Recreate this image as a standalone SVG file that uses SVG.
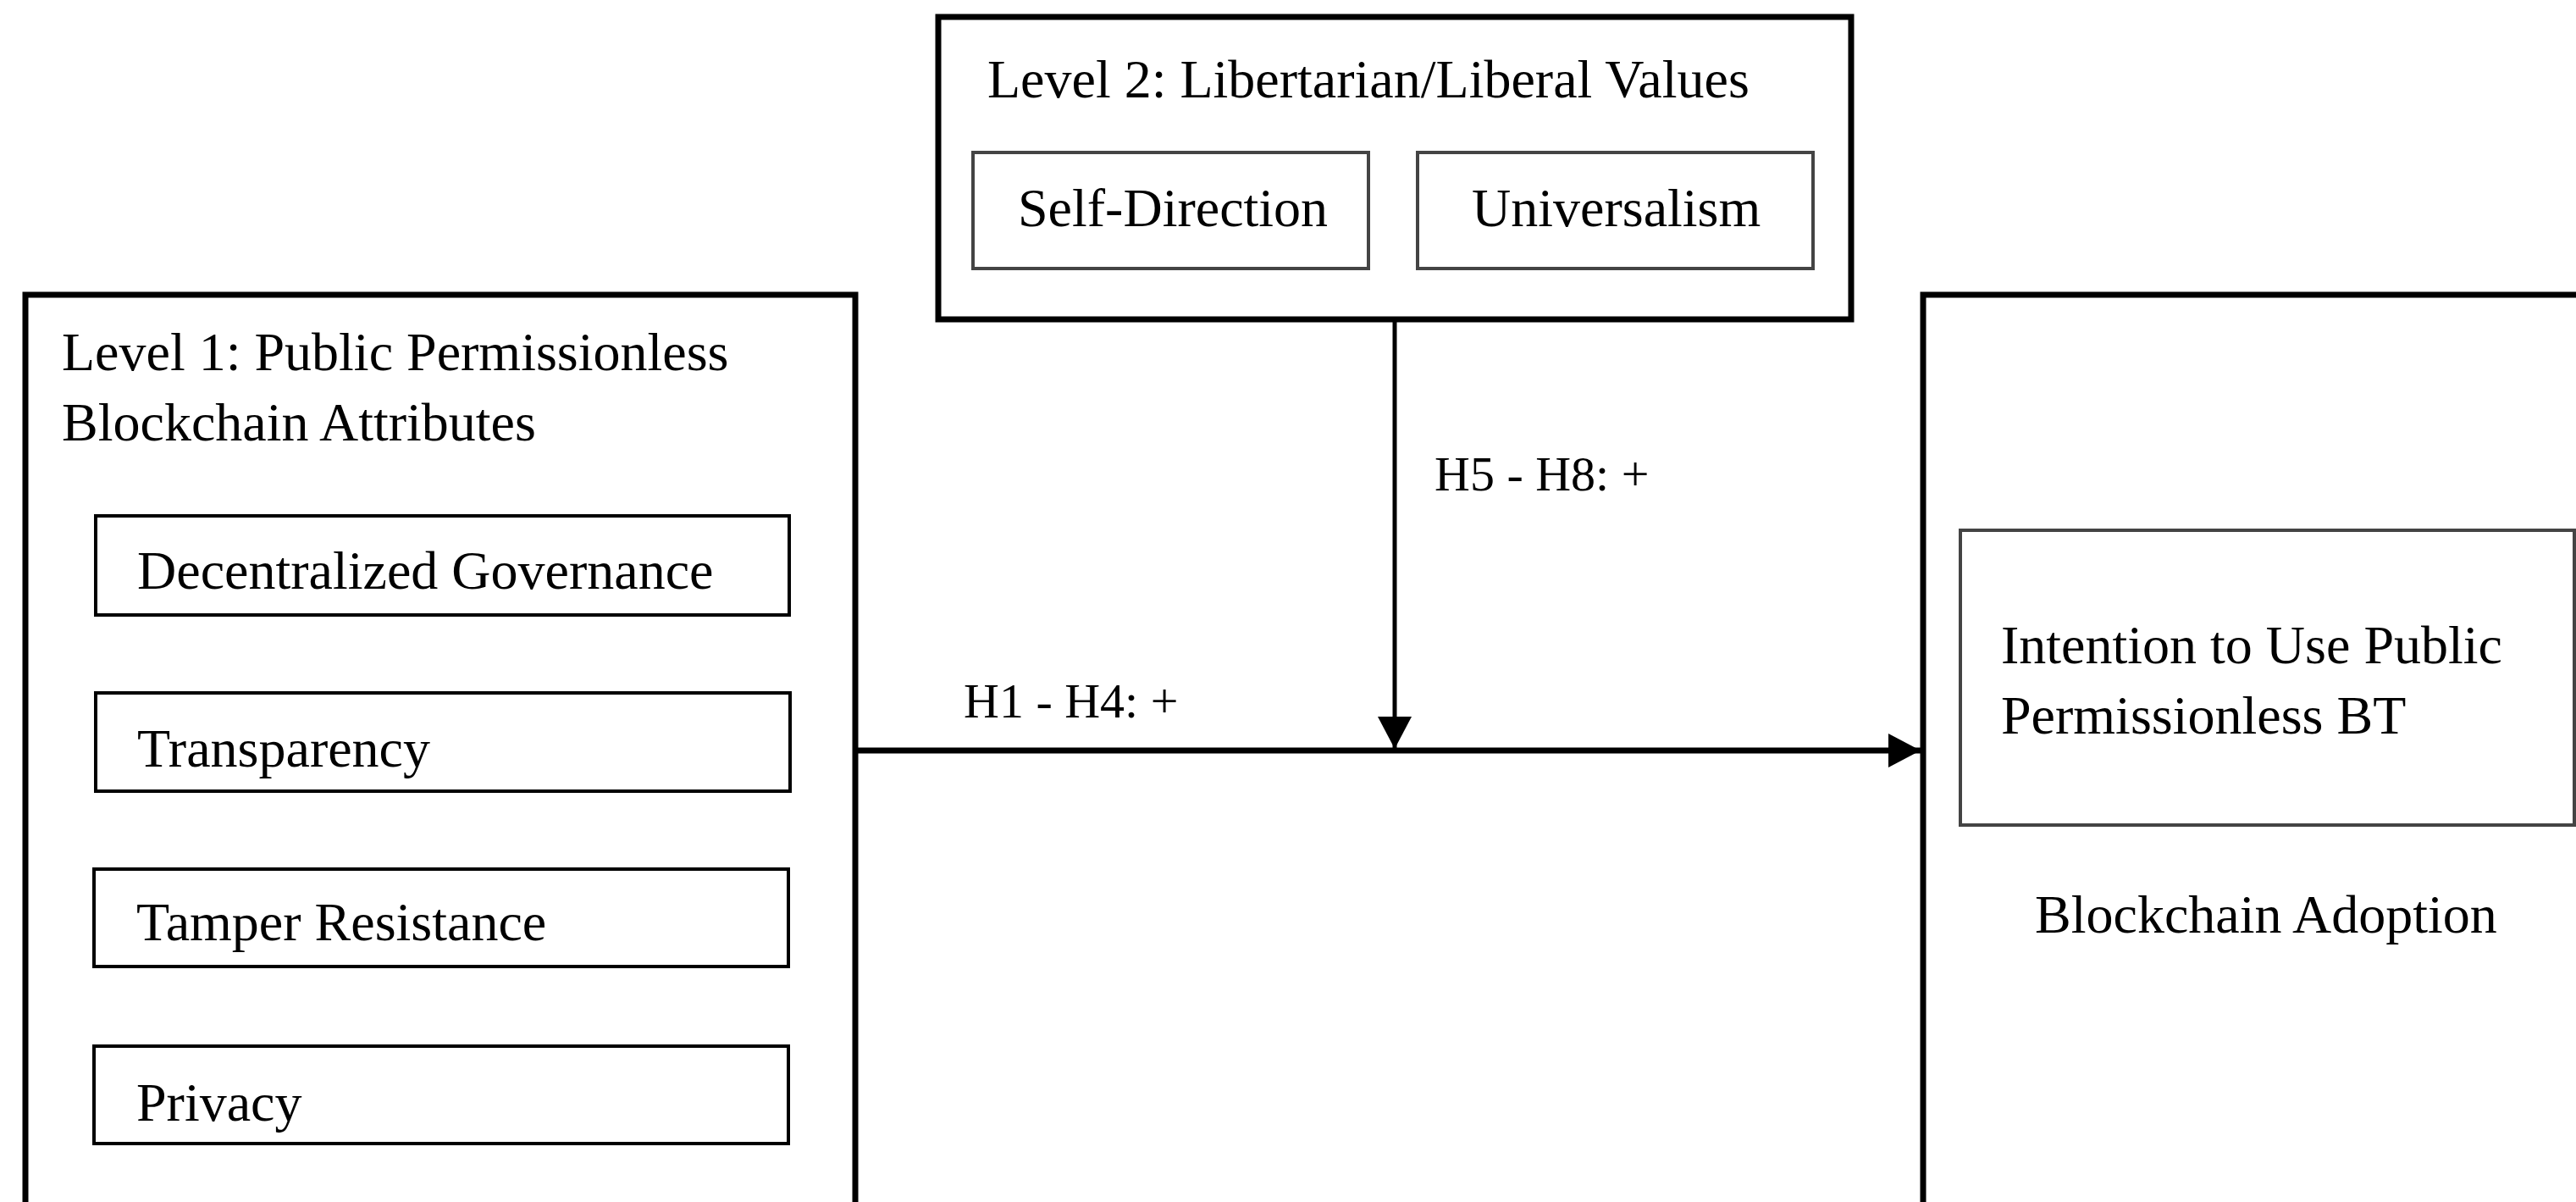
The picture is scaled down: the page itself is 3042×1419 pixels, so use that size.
<svg xmlns="http://www.w3.org/2000/svg" width="3042" height="1419" viewBox="0 0 3042 1419">
<style>
text{font-family:"Liberation Serif","Times New Roman",serif;font-size:64px;fill:#000}
.lbl{font-size:58px}
.outer{fill:none;stroke:#000;stroke-width:7}
.inner{fill:none;stroke:#000;stroke-width:4}
.grey{fill:none;stroke:#444;stroke-width:4}
.conn{fill:none;stroke:#000}
</style>
<defs>
<marker id="ah" viewBox="0 0 38 40" refX="38" refY="20" markerWidth="38" markerHeight="40" markerUnits="userSpaceOnUse" orient="auto">
<path d="M0,0 L38,20 L0,40 Z" fill="#000"/>
</marker>
</defs>
<rect width="3042" height="1419" fill="#fff"/>
<g id="level2">
<rect class="outer" x="1108" y="20" width="1078" height="357"/>
<text x="1166" y="115">Level 2: Libertarian/Liberal Values</text>
</g>
<g id="self-direction">
<rect class="grey" x="1149" y="180" width="467" height="137"/>
<text x="1202" y="267">Self-Direction</text>
</g>
<g id="universalism">
<rect class="grey" x="1674" y="180" width="467" height="137"/>
<text x="1738" y="267">Universalism</text>
</g>
<g id="level1">
<rect class="outer" x="30" y="348" width="980" height="1150"/>
<text x="73" y="437">Level 1: Public Permissionless</text>
<text x="73" y="520">Blockchain Attributes</text>
</g>
<g id="decentralized-governance">
<rect class="inner" x="113" y="609" width="819" height="117"/>
<text x="162" y="695">Decentralized Governance</text>
</g>
<g id="transparency">
<rect class="inner" x="113" y="818" width="820" height="116"/>
<text x="162" y="905">Transparency</text>
</g>
<g id="tamper-resistance">
<rect class="inner" x="111" y="1026" width="820" height="115"/>
<text x="161" y="1110">Tamper Resistance</text>
</g>
<g id="privacy">
<rect class="inner" x="111" y="1235" width="820" height="115"/>
<text x="161" y="1323">Privacy</text>
</g>
<g id="blockchain-adoption">
<rect class="outer" x="2271" y="348" width="900" height="1150"/>
<text x="2403" y="1101">Blockchain Adoption</text>
</g>
<g id="intention">
<rect class="grey" x="2315" y="626" width="725" height="348"/>
<text x="2363" y="783">Intention to Use Public</text>
<text x="2363" y="866">Permissionless BT</text>
</g>
<g id="connectors">
<line class="conn" x1="1010" y1="886" x2="2268" y2="886" stroke-width="7" marker-end="url(#ah)"/>
<line class="conn" x1="1647" y1="380" x2="1647" y2="884" stroke-width="5" marker-end="url(#ah)"/>
<text class="lbl" x="1138" y="847">H1 - H4: +</text>
<text class="lbl" x="1694" y="579">H5 - H8: +</text>
</g>
</svg>
